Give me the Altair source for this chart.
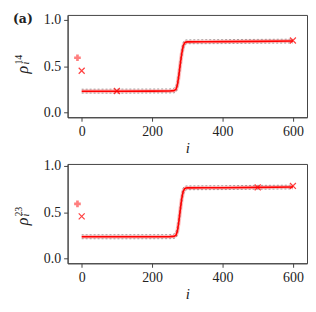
import altair as alt
import pandas as pd

# ---- data ----
i_curve = [0, 100, 200, 250, 262, 268, 272, 276, 280, 284, 288, 292, 296, 300, 350, 400, 500, 600]

rho14_line  = [0.230, 0.230, 0.231, 0.232, 0.236, 0.250, 0.300, 0.400, 0.520, 0.630, 0.710, 0.748, 0.758, 0.760, 0.761, 0.763, 0.766, 0.770]
rho14_upper = [0.252, 0.253, 0.254, 0.255, 0.262, 0.285, 0.345, 0.450, 0.570, 0.680, 0.750, 0.778, 0.782, 0.783, 0.784, 0.785, 0.787, 0.790]
rho14_lower = [0.210, 0.208, 0.210, 0.211, 0.212, 0.220, 0.260, 0.355, 0.475, 0.585, 0.670, 0.722, 0.738, 0.740, 0.741, 0.742, 0.745, 0.748]

rho23_line  = [0.235, 0.235, 0.236, 0.237, 0.240, 0.252, 0.300, 0.400, 0.525, 0.640, 0.720, 0.752, 0.760, 0.762, 0.763, 0.764, 0.768, 0.772]
rho23_upper = [0.257, 0.258, 0.258, 0.259, 0.265, 0.287, 0.345, 0.450, 0.575, 0.690, 0.758, 0.780, 0.783, 0.784, 0.785, 0.786, 0.789, 0.792]
rho23_lower = [0.214, 0.213, 0.214, 0.215, 0.217, 0.225, 0.262, 0.355, 0.478, 0.592, 0.680, 0.726, 0.740, 0.742, 0.743, 0.744, 0.747, 0.750]

plus_i = [-12]
plus14 = [0.59]
plus23 = [0.59]

x14_i = [0, 100, 600]
x14_v = [0.45, 0.232, 0.775]
x23_i = [0, 500, 600]
x23_v = [0.455, 0.768, 0.783]

FONT = "Liberation Serif"
XDOM = [-40, 640]
INK = "#222222"


def ytitle_layers(sup, ty):
    # rho with subscript i and superscript, rotated like a y-axis title
    d = pd.DataFrame({"t": ["ρ"]})
    rho = alt.Chart(d).mark_text(font=FONT, fontSize=16, fontStyle="italic", angle=270,
                                 align="center", baseline="middle", color=INK).encode(
        text="t:N", x=alt.value(-45), y=alt.value(ty))
    s = alt.Chart(pd.DataFrame({"t": [sup]})).mark_text(
        font=FONT, fontSize=10, angle=270, align="left", baseline="middle", color=INK).encode(
        text="t:N", x=alt.value(-49), y=alt.value(ty - 5))
    sub = alt.Chart(pd.DataFrame({"t": ["i"]})).mark_text(
        font=FONT, fontSize=10, fontStyle="italic", angle=270, align="left",
        baseline="middle", color=INK).encode(
        text="t:N", x=alt.value(-42), y=alt.value(ty - 5))
    return [rho, s, sub]


def panel(line, upper, lower, pi, pv, xi, xv, sup, ty, ydom, h):
    df = pd.DataFrame({"i": i_curve, "line": line, "upper": upper, "lower": lower})
    dp = pd.DataFrame({"i": pi, "v": pv})
    dx = pd.DataFrame({"i": xi, "v": xv})
    xenc = alt.X("i:Q", scale=alt.Scale(domain=XDOM, nice=False, zero=False),
                 axis=alt.Axis(values=[0, 200, 400, 600], title="i", titleFontStyle="italic",
                               titleFontWeight="normal", titleFontSize=15, titlePadding=2))
    yax = alt.Axis(values=[0, 0.5, 1.0], format=".1f", title=None)
    ysc = alt.Scale(domain=ydom, nice=False, zero=False)
    base = alt.Chart(df).encode(x=xenc)
    halo = base.mark_line(color="#ff0000", strokeWidth=4, opacity=0.25).encode(
        y=alt.Y("line:Q", scale=ysc, axis=yax))
    up = base.mark_line(color="#555555", strokeWidth=1, strokeDash=[2, 2], opacity=0.5).encode(
        y=alt.Y("upper:Q", scale=ysc, axis=yax))
    lo = base.mark_line(color="#555555", strokeWidth=1, strokeDash=[2, 2], opacity=0.5).encode(
        y=alt.Y("lower:Q", scale=ysc, axis=yax))
    red = base.mark_line(color="#ff0000", strokeWidth=1.6).encode(
        y=alt.Y("line:Q", scale=ysc, axis=yax))
    plus = alt.Chart(dp).mark_point(shape="cross", filled=True, color="#ff0000", opacity=0.5,
                                    size=45).encode(
        x=xenc, y=alt.Y("v:Q", scale=ysc, axis=yax))
    xm = alt.Chart(dx).mark_point(shape="M-1,-1L1,1M-1,1L1,-1", filled=False, color="#ff0000",
                                  opacity=0.75, strokeWidth=1.2, size=36).encode(
        x=xenc, y=alt.Y("v:Q", scale=ysc, axis=yax))
    layers = [halo, up, lo, red, plus, xm] + ytitle_layers(sup, ty)
    return alt.layer(*layers).properties(width=241, height=h)


top = panel(rho14_line, rho14_upper, rho14_lower, plus_i, plus14, x14_i, x14_v,
            "14", 55, [-0.05, 1.05], 103)
lab = alt.Chart(pd.DataFrame({"t": ["(a)"]})).mark_text(
    font="DejaVu Serif", fontSize=12.5, fontWeight="bold", align="left", baseline="middle",
    color=INK).encode(text="t:N", x=alt.value(-55), y=alt.value(4.5))
top = alt.layer(top, lab)
bottom = panel(rho23_line, rho23_upper, rho23_lower, plus_i, plus23, x23_i, x23_v,
               "23", 58, [-0.05, 1.02], 100)

chart = alt.vconcat(top, bottom, spacing=2, background="white").properties(
    padding={"left": 4, "top": 3, "right": 0, "bottom": 0}
).configure_view(stroke="#444444", strokeWidth=1).configure_axis(
    labelFont=FONT, titleFont=FONT, labelFontSize=14, labelColor=INK, titleColor=INK,
    domainColor="#444444", tickColor="#444444", tickSize=4, grid=False, labelPadding=3
)

chart.save("out.html", embed_options={"renderer": "svg", "actions": False})
